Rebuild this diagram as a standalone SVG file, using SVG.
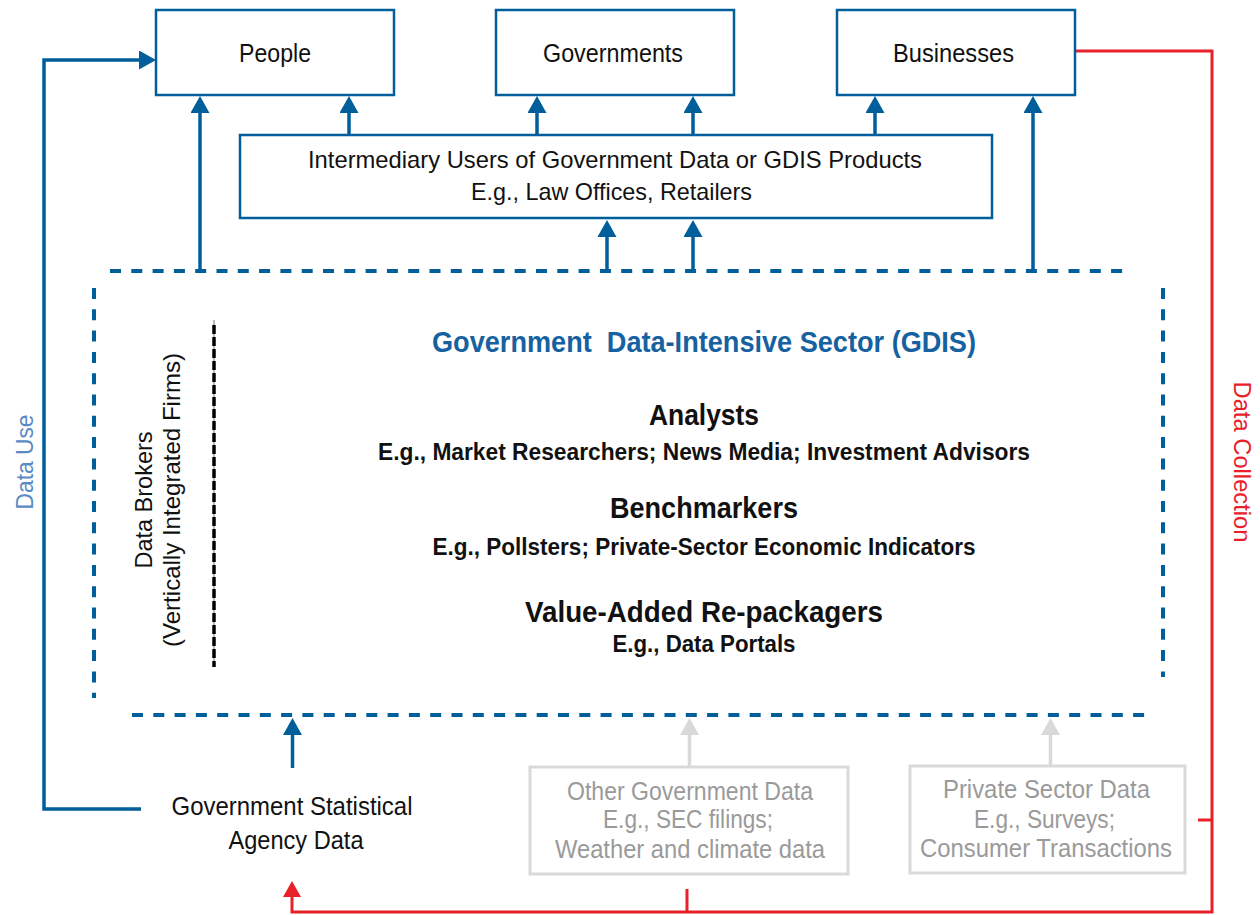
<svg xmlns="http://www.w3.org/2000/svg" width="1260" height="915" viewBox="0 0 1260 915">
<style>
  .box { fill: #fff; stroke: #005E9B; stroke-width: 2.5; }
  .gbox { fill: #fff; stroke: #D9D9D9; stroke-width: 3; }
  .t { font-family: "Liberation Sans", Arial, sans-serif; font-size: 25px; fill: #111; text-anchor: middle; }
  .b { font-family: "Liberation Sans", Arial, sans-serif; font-weight: bold; fill: #111; text-anchor: middle; }
  .h { font-size: 29px; }
  .s { font-size: 23px; }
  .g { fill: #9A9A9A; }
  .blue { stroke: #005E9B; stroke-width: 3.5; fill: none; }
  .gray { stroke: #D9D9D9; stroke-width: 3.5; fill: none; }
  .red { stroke: #E8202A; stroke-width: 3; fill: none; }
  .dash { stroke: #005E9B; stroke-width: 4; fill: none; stroke-dasharray: 11 10.3; }
</style>
<defs>
  <marker id="ab" viewBox="0 0 17 19" refX="11" refY="9.5" markerWidth="17" markerHeight="19" markerUnits="userSpaceOnUse" orient="auto">
    <path d="M0,0 L17,9.5 L0,19 z" fill="#005E9B"/>
  </marker>
  <marker id="ag" viewBox="0 0 17 19" refX="11" refY="9.5" markerWidth="17" markerHeight="19" markerUnits="userSpaceOnUse" orient="auto">
    <path d="M0,0 L17,9.5 L0,19 z" fill="#D9D9D9"/>
  </marker>
  <marker id="ar" viewBox="0 0 16 18" refX="10" refY="9" markerWidth="16" markerHeight="18" markerUnits="userSpaceOnUse" orient="auto">
    <path d="M0,0 L16,9 L0,18 z" fill="#E8202A"/>
  </marker>
</defs>
<rect width="1260" height="915" fill="#fff"/>

<g id="connectors">
  <path class="blue" d="M141,809 H44 V60 H150" marker-end="url(#ab)"/>
  <path class="blue" d="M200,271 V102" marker-end="url(#ab)"/>
  <path class="blue" d="M349,135 V102" marker-end="url(#ab)"/>
  <path class="blue" d="M537,135 V102" marker-end="url(#ab)"/>
  <path class="blue" d="M693,135 V102" marker-end="url(#ab)"/>
  <path class="blue" d="M875,135 V102" marker-end="url(#ab)"/>
  <path class="blue" d="M1033,271 V102" marker-end="url(#ab)"/>
  <path class="blue" d="M607,271 V226" marker-end="url(#ab)"/>
  <path class="blue" d="M693,271 V226" marker-end="url(#ab)"/>
  <path class="blue" d="M292.5,768 V724" marker-end="url(#ab)"/>
  <path class="gray" d="M689.5,767 V724" marker-end="url(#ag)"/>
  <path class="gray" d="M1050.5,766 V724" marker-end="url(#ag)"/>
  <path class="red" d="M1075,51 H1212 V912 H292 V887" marker-end="url(#ar)"/>
  <path class="red" d="M687,889 V912"/>
  <path class="red" d="M1198,820 H1212"/>
</g>

<g id="people">
  <rect class="box" x="156" y="10" width="238" height="85"/>
  <text class="t" x="275" y="62" textLength="72" lengthAdjust="spacingAndGlyphs">People</text>
</g>
<g id="governments">
  <rect class="box" x="496" y="10" width="238" height="85"/>
  <text class="t" x="613" y="62" textLength="140" lengthAdjust="spacingAndGlyphs">Governments</text>
</g>
<g id="businesses">
  <rect class="box" x="837" y="10" width="238" height="85"/>
  <text class="t" x="953.5" y="62" textLength="121" lengthAdjust="spacingAndGlyphs">Businesses</text>
</g>
<g id="intermediary">
  <rect class="box" x="240" y="135" width="752" height="83"/>
  <text class="t" x="615" y="168" style="font-size:24px" textLength="614" lengthAdjust="spacingAndGlyphs">Intermediary Users of Government Data or GDIS Products</text>
  <text class="t" x="611.5" y="200" style="font-size:24px" textLength="281" lengthAdjust="spacingAndGlyphs">E.g., Law Offices, Retailers</text>
</g>

<g id="gdis">
  <path class="dash" d="M110,271 H1126"/>
  <path class="dash" d="M94,288 V698"/>
  <path class="dash" d="M1163,288 V677"/>
  <path class="dash" d="M132,715 H1148"/>
  <text class="b h" x="704" y="352" style="fill:#1661A0" xml:space="preserve" textLength="544" lengthAdjust="spacingAndGlyphs">Government  Data-Intensive Sector (GDIS)</text>
  <text class="b h" x="704" y="425" textLength="110" lengthAdjust="spacingAndGlyphs">Analysts</text>
  <text class="b s" x="704" y="460" textLength="652" lengthAdjust="spacingAndGlyphs">E.g., Market Researchers; News Media; Investment Advisors</text>
  <text class="b h" x="704" y="518" textLength="188" lengthAdjust="spacingAndGlyphs">Benchmarkers</text>
  <text class="b s" x="704" y="555" textLength="543" lengthAdjust="spacingAndGlyphs">E.g., Pollsters; Private-Sector Economic Indicators</text>
  <text class="b h" x="704" y="622" textLength="358" lengthAdjust="spacingAndGlyphs">Value-Added Re-packagers</text>
  <text class="b s" x="704" y="652" textLength="183" lengthAdjust="spacingAndGlyphs">E.g., Data Portals</text>
</g>

<g id="data-brokers">
  <path d="M214,320 V667" stroke="#888" stroke-width="1.2" fill="none"/>
  <path d="M214,325 V667" stroke="#000" stroke-width="3.5" stroke-dasharray="9 3" fill="none"/>
  <text class="t" transform="translate(152,500) rotate(-90)" x="0" y="0" style="font-size:24px" textLength="137" lengthAdjust="spacingAndGlyphs">Data Brokers</text>
  <text class="t" transform="translate(180,500) rotate(-90)" x="0" y="0" style="font-size:24px" textLength="294" lengthAdjust="spacingAndGlyphs">(Vertically Integrated Firms)</text>
</g>

<g id="gov-stat">
  <text class="t" x="292" y="815" textLength="241" lengthAdjust="spacingAndGlyphs">Government Statistical</text>
  <text class="t" x="296" y="849" textLength="135" lengthAdjust="spacingAndGlyphs">Agency Data</text>
</g>

<g id="other-gov">
  <rect class="gbox" x="530" y="767" width="318" height="107"/>
  <text class="t g" x="690" y="800" textLength="246" lengthAdjust="spacingAndGlyphs">Other Government Data</text>
  <text class="t g" x="688" y="828" textLength="170" lengthAdjust="spacingAndGlyphs">E.g., SEC filings;</text>
  <text class="t g" x="690" y="858" textLength="270" lengthAdjust="spacingAndGlyphs">Weather and climate data</text>
</g>
<g id="private-sector">
  <rect class="gbox" x="910" y="766" width="275" height="107"/>
  <text class="t g" x="1046.5" y="798" textLength="207" lengthAdjust="spacingAndGlyphs">Private Sector Data</text>
  <text class="t g" x="1044.5" y="828" textLength="141" lengthAdjust="spacingAndGlyphs">E.g., Surveys;</text>
  <text class="t g" x="1046" y="857" textLength="252" lengthAdjust="spacingAndGlyphs">Consumer Transactions</text>
</g>

<g id="labels">
  <text class="t" transform="translate(33,462) rotate(-90)" x="0" y="0" style="font-size:24px;fill:#5A8AC6" textLength="95" lengthAdjust="spacingAndGlyphs">Data Use</text>
  <text class="t" transform="translate(1234,462) rotate(90)" x="0" y="0" style="font-size:24px;fill:#E8202A" textLength="161" lengthAdjust="spacingAndGlyphs">Data Collection</text>
</g>
</svg>
